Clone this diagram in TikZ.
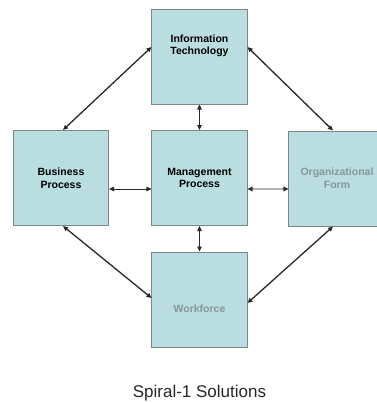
\documentclass[tikz,border=0pt]{standalone}
\usepackage{fontspec}
\setmainfont{Liberation Sans}
\usetikzlibrary{arrows.meta}
\definecolor{boxfill}{RGB}{186,222,224}
\definecolor{boxline}{RGB}{125,135,138}
\definecolor{graytext}{RGB}{135,150,155}
\definecolor{linecol}{RGB}{40,40,40}
\tikzset{
  box/.style={draw=boxline, line width=1bp, fill=boxfill, minimum width=95bp, minimum height=95bp, inner sep=0pt},
  lbl/.style={font=\fontsize{10.5bp}{12.5bp}\selectfont\bfseries, align=center, text=black},
  glbl/.style={lbl, text=graytext},
  conn/.style={draw=linecol, line width=0.8bp, {Triangle[length=5bp,width=4.5bp]}-{Triangle[length=5bp,width=4.5bp]}},
  dconn/.style={conn, line width=1.3bp},
}
\begin{document}
\begin{tikzpicture}[x=1bp,y=-1bp]
\useasboundingbox (0,0) rectangle (377,403);
\begin{scope}
\clip (0,0) rectangle (377,403);
\node[box] (it) at (199.5,56.5) {};
\node[box] (bus) at (61,178) {};
\node[box] (mgmt) at (199.5,178) {};
\node[box] (org) at (336.5,178.5) {};
\node[box] (work) at (199.5,299.5) {};
\end{scope}
\node[lbl] (itt) at (199.5,46) {Information\\Technology};
\node[lbl] (bust) at (61,178) {Business\\Process};
\node[lbl] (mgmtt) at (199.5,178) {Management\\Process};
\node[glbl] (orgt) at (337,178) {Organizational\\Form};
\node[glbl] (workt) at (199.5,309) {Workforce};
\draw[dconn] ([yshift=9.5bp]it.west) -- ([xshift=2bp]bus.north);
\draw[dconn] ([yshift=9.5bp]it.east) -- ([xshift=-3.5bp]org.north);
\draw[conn] (it.south) -- (mgmt.north);
\draw[conn] ([yshift=-11bp]bus.east) -- ([yshift=-11bp]mgmt.west);
\draw[conn] ([yshift=-11bp]mgmt.east) -- ([yshift=-10.5bp]org.west);
\draw[conn] (mgmt.south) -- (work.north);
\draw[dconn] ([xshift=2bp]bus.south) -- ([yshift=1.5bp]work.west);
\draw[dconn] ([xshift=-3.5bp]org.south) -- ([yshift=-3.5bp]work.east);
\node[font=\fontsize{17bp}{20bp}\selectfont, text=black!85] (cap) at (199.5,393) {Spiral-1 Solutions};
\end{tikzpicture}
\end{document}
